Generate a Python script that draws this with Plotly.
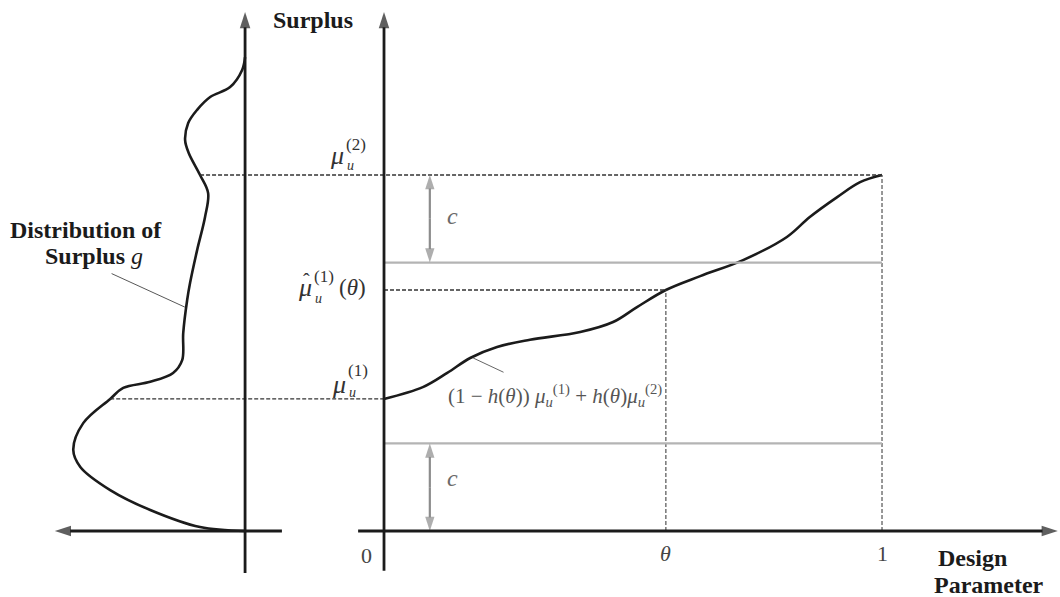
import numpy as np
import plotly.graph_objects as go

# ─── Data ───

# surplus curve (1 - h(theta)) mu1 + h(theta) mu2 over the design parameter
DESIGN_PARAM = [0.0, 0.078, 0.127, 0.173, 0.227, 0.293, 0.394, 0.460, 0.508,
                0.566, 0.635, 0.721, 0.809, 0.855, 0.910, 0.956, 1.0]
SURPLUS_CURVE = [0.371, 0.404, 0.444, 0.486, 0.517, 0.537, 0.559, 0.587, 0.629,
                 0.677, 0.716, 0.761, 0.826, 0.882, 0.938, 0.980, 1.0]

# distribution of surplus g (drawn sideways, density grows to the left)
DIST_SURPLUS = [0.0, 0.011, 0.059, 0.115, 0.180, 0.228, 0.303, 0.371, 0.402,
                0.419, 0.444, 0.480, 0.556, 0.649, 0.697, 0.789, 0.882, 0.949,
                1.0, 1.062, 1.098, 1.146, 1.183, 1.219, 1.247, 1.295, 1.331]
DIST_G = [0.0, 0.262, 0.552, 0.785, 0.959, 1.0, 0.942, 0.785, 0.709,
          0.552, 0.419, 0.366, 0.360, 0.337, 0.320, 0.279, 0.233, 0.215,
          0.262, 0.328, 0.349, 0.331, 0.279, 0.203, 0.087, 0.017, 0.0]

THETA = 0.566
C = 0.246

MU1 = SURPLUS_CURVE[0]
MU2 = SURPLUS_CURVE[-1]
MU1_HAT = float(np.interp(THETA, DESIGN_PARAM, SURPLUS_CURVE))
G_AT_MU1 = float(np.interp(MU1, DIST_SURPLUS, DIST_G))
G_AT_MU2 = float(np.interp(MU2, DIST_SURPLUS, DIST_G))

# ─── Layout constants ───
G0 = -0.279          # where the g-panel vertical axis sits
G_SCALE = 0.345      # x units per unit of density
AXIS_TOP = 1.458
AXIS_BOTTOM = -0.112
C_ARROW_X = 0.092

INK = "#1b1b1b"
GRAY = "#8c8c8c"
LIGHT = "#b4b4b4"
SERIF = "Liberation Serif"

fig = go.Figure()


def line(x, y, color=INK, width=2.0, dash=None, shape="linear"):
    fig.add_trace(go.Scatter(
        x=x, y=y, mode="lines",
        line=dict(color=color, width=width, dash=dash, shape=shape, smoothing=1.0),
        hoverinfo="skip", showlegend=False,
    ))


def arrow(x, y, color=INK, width=2.8, size=17):
    # line with an arrow head at its last point
    fig.add_trace(go.Scatter(
        x=x, y=y, mode="lines+markers",
        line=dict(color=color, width=width),
        marker=dict(symbol="arrow", angleref="previous", size=[0] * (len(x) - 1) + [size],
                    color=color, line=dict(width=0)),
        hoverinfo="skip", showlegend=False,
    ))


# curves
line([G0 - G_SCALE * g for g in DIST_G], DIST_SURPLUS, width=2.6, shape="spline")
line(DESIGN_PARAM, SURPLUS_CURVE, width=2.6, shape="spline")

# dashed guides
DASH = "4px,2px"
line([G0 - G_SCALE * G_AT_MU2, 1.0], [MU2, MU2], color="#333", width=1.3, dash=DASH)
line([G0 - G_SCALE * G_AT_MU1, 0.0], [MU1, MU1], color="#333", width=1.3, dash=DASH)
line([0.0, THETA], [MU1_HAT, MU1_HAT], color="#333", width=1.3, dash=DASH)
line([THETA, THETA], [0.0, MU1_HAT], color="#444", width=1.1, dash=DASH)
line([1.0, 1.0], [0.0, MU2], color="#444", width=1.1, dash=DASH)

# gray bands c above 0 and c below mu2
line([0.0, 1.0], [C, C], color=LIGHT, width=2.2)
line([0.0, 1.0], [MU2 - C, MU2 - C], color=LIGHT, width=2.2)
for lo, hi in [(0.0, C), (MU2 - C, MU2)]:
    mid = (lo + hi) / 2
    arrow([C_ARROW_X, C_ARROW_X], [mid, hi], color=GRAY, width=2.2, size=15)
    arrow([C_ARROW_X, C_ARROW_X], [mid, lo], color=GRAY, width=2.2, size=15)

# axes
arrow([0.0, 0.0], [AXIS_BOTTOM, AXIS_TOP])
arrow([-0.052, 1.353], [0.0, 0.0])
arrow([G0, G0], [-0.118, AXIS_TOP])
arrow([-0.205, -0.661], [0.0, 0.0])


# ─── Text ───

def text(x, y, s, size=16, color=INK, xanchor="center", xshift=0, yshift=0):
    fig.add_annotation(x=x, y=y, text=s, showarrow=False, xanchor=xanchor,
                       xshift=xshift, yshift=yshift,
                       font=dict(family=SERIF, size=size, color=color))


MATH = "#333"


def mu_label(y, mu_right, mu_dy, sup, sup_dy, sub_dy, hat=False):
    # mu with subscript u and superscript, placed left of the surplus axis (x = 0)
    text(0, y, "<i>μ</i>", size=26, color=MATH, xanchor="right", xshift=mu_right, yshift=mu_dy)
    text(0, y, sup, size=17, color=MATH, xanchor="left", xshift=mu_right - 2, yshift=sup_dy)
    text(0, y, "<i>u</i>", size=14, color=MATH, xanchor="left", xshift=mu_right - 1, yshift=sub_dy)
    if hat:
        text(0, y, "ˆ", size=20, color=MATH, xanchor="center", xshift=mu_right - 8, yshift=mu_dy + 7)


mu_label(MU2, -38, 20, "(2)", 31, 10)
mu_label(MU1_HAT, -70, 2, "(1)", 13, -9, hat=True)
text(0, MU1_HAT, "(<i>θ</i>)", size=23, color=MATH, xanchor="right", xshift=-16, yshift=2)
mu_label(MU1, -36, 14, "(1)", 28, 6)

text(-0.143, 1.435, "<b>Surplus</b>", size=24)
text(-0.598, 0.846, "<b>Distribution of</b>", size=24)
text(-0.583, 0.773, "<b>Surplus</b> <i>g</i>", size=24)
fig.add_annotation(x=-0.400, y=0.629, ax=-0.550, ay=0.725, axref="x", ayref="y",
                   showarrow=True, arrowhead=0, arrowwidth=0.9, arrowcolor="#444", text="")

text(C_ARROW_X + 0.045, MU2 - C / 2 + 0.008, "<i>c</i>", size=24, color="#6a6a6a")
text(C_ARROW_X + 0.045, C / 2 + 0.025, "<i>c</i>", size=24, color="#6a6a6a")

text(0.343, 0.380, "(1 − <i>h</i>(<i>θ</i>)) <i>μ</i><sub><i>u</i></sub><sup>(1)</sup>"
                   " + <i>h</i>(<i>θ</i>)<i>μ</i><sub><i>u</i></sub><sup>(2)</sup>",
     size=21, color="#555")
fig.add_annotation(x=0.179, y=0.486, ax=0.243, ay=0.444, axref="x", ayref="y",
                   showarrow=True, arrowhead=0, arrowwidth=0.9, arrowcolor="#555", text="")

text(-0.036, -0.068, "0", size=22, color="#444")
text(THETA, -0.062, "<i>θ</i>", size=22, color="#444")
text(1.0, -0.062, "1", size=22, color="#444")
text(1.108, -0.076, "<b>Design</b>", size=24, xanchor="left")
text(1.100, -0.152, "<b>Parameter</b>", size=24, xanchor="left")

fig.update_layout(
    width=1060, height=597,
    margin=dict(l=0, r=0, t=0, b=0),
    paper_bgcolor="white", plot_bgcolor="white",
    xaxis=dict(range=[-0.7711, 1.3574], visible=False, fixedrange=True),
    yaxis=dict(range=[-0.1854, 1.4916], visible=False, fixedrange=True),
    showlegend=False,
)

# page body has a default 8px margin; drop it so the figure fills the window
fig.write_html("out.html", config={"displayModeBar": False},
               post_script="document.body.style.margin = '0';")
